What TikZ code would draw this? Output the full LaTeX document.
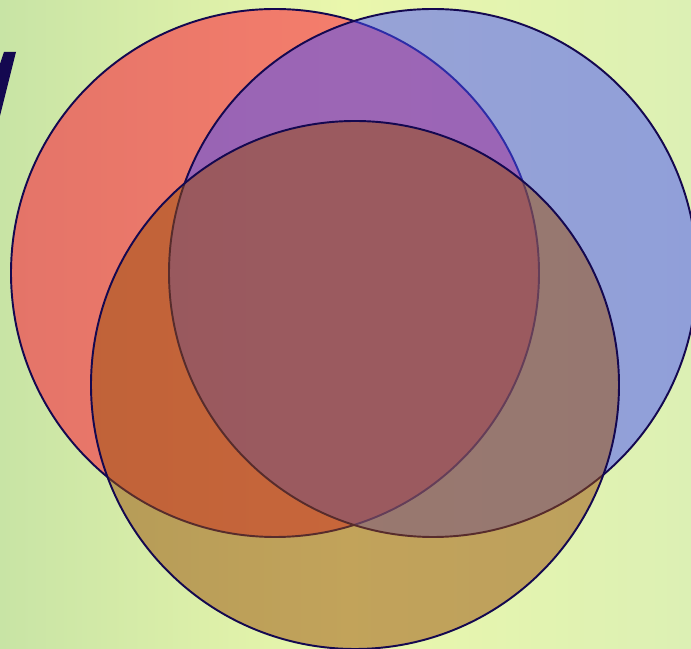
\documentclass[tikz,border=0pt]{standalone}
\usepackage{xcolor}
\usepackage{tikz}

\definecolor{grassL}{RGB}{200,228,165}
\definecolor{grassM}{RGB}{234,247,172}
\definecolor{grassR}{RGB}{220,240,180}
\definecolor{setred}{RGB}{255,5,45}
\definecolor{setblue}{RGB}{70,80,255}
\definecolor{setgold}{RGB}{155,80,10}
\definecolor{rimnavy}{RGB}{20,8,80}

\tikzset{
  setdisc/.style={draw=rimnavy, line width=1.1pt, fill=#1, fill opacity=0.5}
}

\begin{document}
\begin{tikzpicture}[x=0.02cm,y=0.02cm]
  \useasboundingbox (0,0) rectangle (691,649);
  \clip (0,0) rectangle (691,649);
  % background
  \shade[left color=grassL, right color=grassR, middle color=grassM] (0,0) rectangle (691,649);
  % piece of the title letter
  \fill[rimnavy] (4,597) -- (16,597) -- (0,533) -- (0,585) -- cycle;
  % the three sets
  \coordinate (cr) at (275,376);
  \coordinate (cb) at (433,376);
  \coordinate (cg) at (355,264);
  \draw[setdisc=setred] (cr) circle (264);
  \draw[setdisc=setblue] (cb) circle (264);
  \draw[setdisc=setgold] (cg) circle (264);
\end{tikzpicture}
\end{document}
